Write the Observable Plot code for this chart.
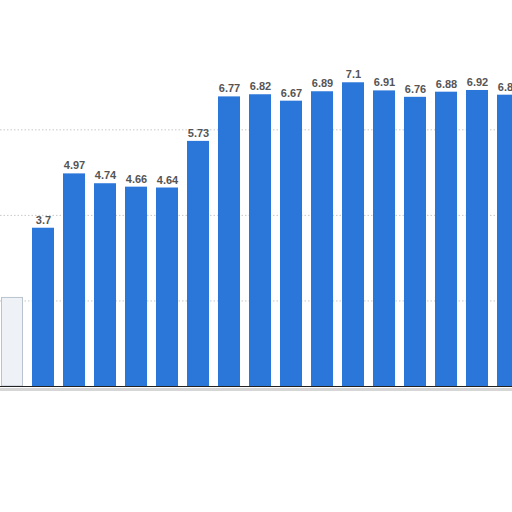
<!DOCTYPE html>
<html><head><meta charset="utf-8">
<script src="https://cdn.jsdelivr.net/npm/d3@7"></script>
<script src="https://cdn.jsdelivr.net/npm/@observablehq/plot@0.6"></script>
<style>body{margin:0;background:#fff;overflow:hidden}</style>
</head><body><div id="chart"></div>
<script>
const categories = ["0","1","2","3","4","5","6","7","8","9","10","11","12","13","14","15","16"];
const ghostCategory = ["0"];
const ghostValue = [2.07];
const barCategories = categories.slice(1);
const values = [3.7, 4.97, 4.74, 4.66, 4.64, 5.73, 6.77, 6.82, 6.67, 6.89, 7.1, 6.91, 6.76, 6.88, 6.92, 6.81];
const gridValues = [2, 4, 6];

const bars = barCategories.map((c, i) => ({c, v: values[i]}));
const ghost = ghostCategory.map((c, i) => ({c, v: ghostValue[i]}));

const chart = Plot.plot({
  width: 512, height: 512,
  marginTop: 1, marginBottom: 126, marginLeft: 0, marginRight: 0,
  x: {domain: categories, range: [-3.5, 523.5], padding: 0, round: false, axis: null},
  y: {domain: [0, 9], axis: null},
  style: {fontFamily: "Liberation Sans, Arial, sans-serif", background: "#fff"},
  marks: [
    Plot.ruleY(gridValues, {y: d => d, stroke: "#c8c8c8", strokeDasharray: "1.5,2", strokeWidth: 1}),
    Plot.barY(ghost, {x: "c", y: "v", fill: "#eef1f5", stroke: "#b9c3d0", strokeWidth: 1, insetLeft: 5, insetRight: 5}),
    Plot.barY(bars, {x: "c", y: "v", fill: "#2b76d9", insetLeft: 4.5, insetRight: 4.5}),
    Plot.text(bars, {x: "c", y: "v", text: d => String(d.v), dy: -8, fill: "#555", fontSize: 11, fontWeight: "bold"}),
    Plot.ruleY([0], {stroke: "#d6d6d6", strokeWidth: 3, dy: 3}),
    Plot.ruleY([0], {stroke: "#222", strokeWidth: 1.2})
  ]
});
document.getElementById("chart").appendChild(chart);
</script>
</body></html>
